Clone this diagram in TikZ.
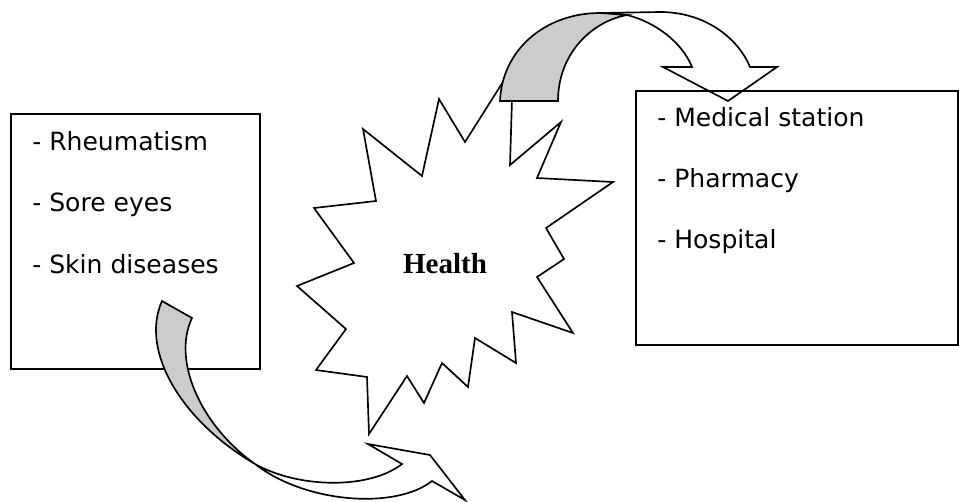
\documentclass[tikz,border=0pt]{standalone}
\usepackage{fontspec}
\setmainfont{DejaVu Sans}
\newfontfamily\healthfont{Liberation Serif}
\definecolor{shade}{RGB}{204,204,204}
\begin{document}
\begin{tikzpicture}[x=0.75pt,y=-0.75pt,
  outline/.style={draw=black,line width=1.25pt,line join=miter},
  boxline/.style={draw=black,line width=1.2pt},
  item/.style={anchor=base west,inner sep=0pt,font=\fontsize{18.8}{22}\selectfont},
  backface/.style={outline,fill=shade},
  frontface/.style={outline,fill=white}]
\useasboundingbox (0,0) rectangle (959,501);

% left box
\draw[boxline] (11,114) rectangle (260,369);
\node[item] (l1) at (32,150) {- Rheumatism};
\node[item] (l2) at (32,211) {- Sore eyes};
\node[item] (l3) at (32,273) {- Skin diseases};

% starburst
\draw[outline,fill=white] (513,66) -- (510,165) -- (561,122) -- (537,178) -- (613,182)
  -- (546,228) -- (564,259) -- (537,277) -- (573,333) -- (512,312) -- (516,363)
  -- (475,338) -- (468,387) -- (442,363) -- (424,403) -- (407,376) -- (369,434)
  -- (367,377) -- (316,370) -- (346,329) -- (297,286) -- (354,263) -- (314,208)
  -- (376,201) -- (363,129) -- (422,176) -- (439,99) -- (465,142) -- cycle;
\node[anchor=base,inner sep=0pt,font=\healthfont\bfseries\fontsize{21.8}{24}\selectfont] (health) at (445,273) {Health};

% top curved arrow
\draw[frontface] (600,13) -- (660,12) .. controls (705,12) and (738,38) .. (750,67)
  -- (777,67) -- (728,101) -- (663,67) -- (692,67)
  .. controls (682,42) and (655,22) .. (627,15) -- cycle;
\draw[backface] (500,101) .. controls (502,50) and (545,13) .. (600,13) -- (627,15)
  .. controls (590,22) and (558,55) .. (558,101) -- cycle;

% right box
\draw[boxline] (636,91) rectangle (958,345);
\node[item] (r1) at (657,126) {- Medical station};
\node[item] (r2) at (657,187) {- Pharmacy};
\node[item] (r3) at (657,248) {- Hospital};

% bottom curved arrow
\draw[backface] (162,301) -- (192,318) .. controls (172,360) and (200,425) .. (255,464)
  .. controls (180,420) and (140,350) .. (162,301) -- cycle;
\draw[frontface] (255,464) .. controls (300,489) and (370,489) .. (402,464)
  -- (368,444) -- (430,455) -- (465,500) -- (432,481)
  .. controls (395,510) and (305,503) .. (255,464) -- cycle;
\end{tikzpicture}
\end{document}
